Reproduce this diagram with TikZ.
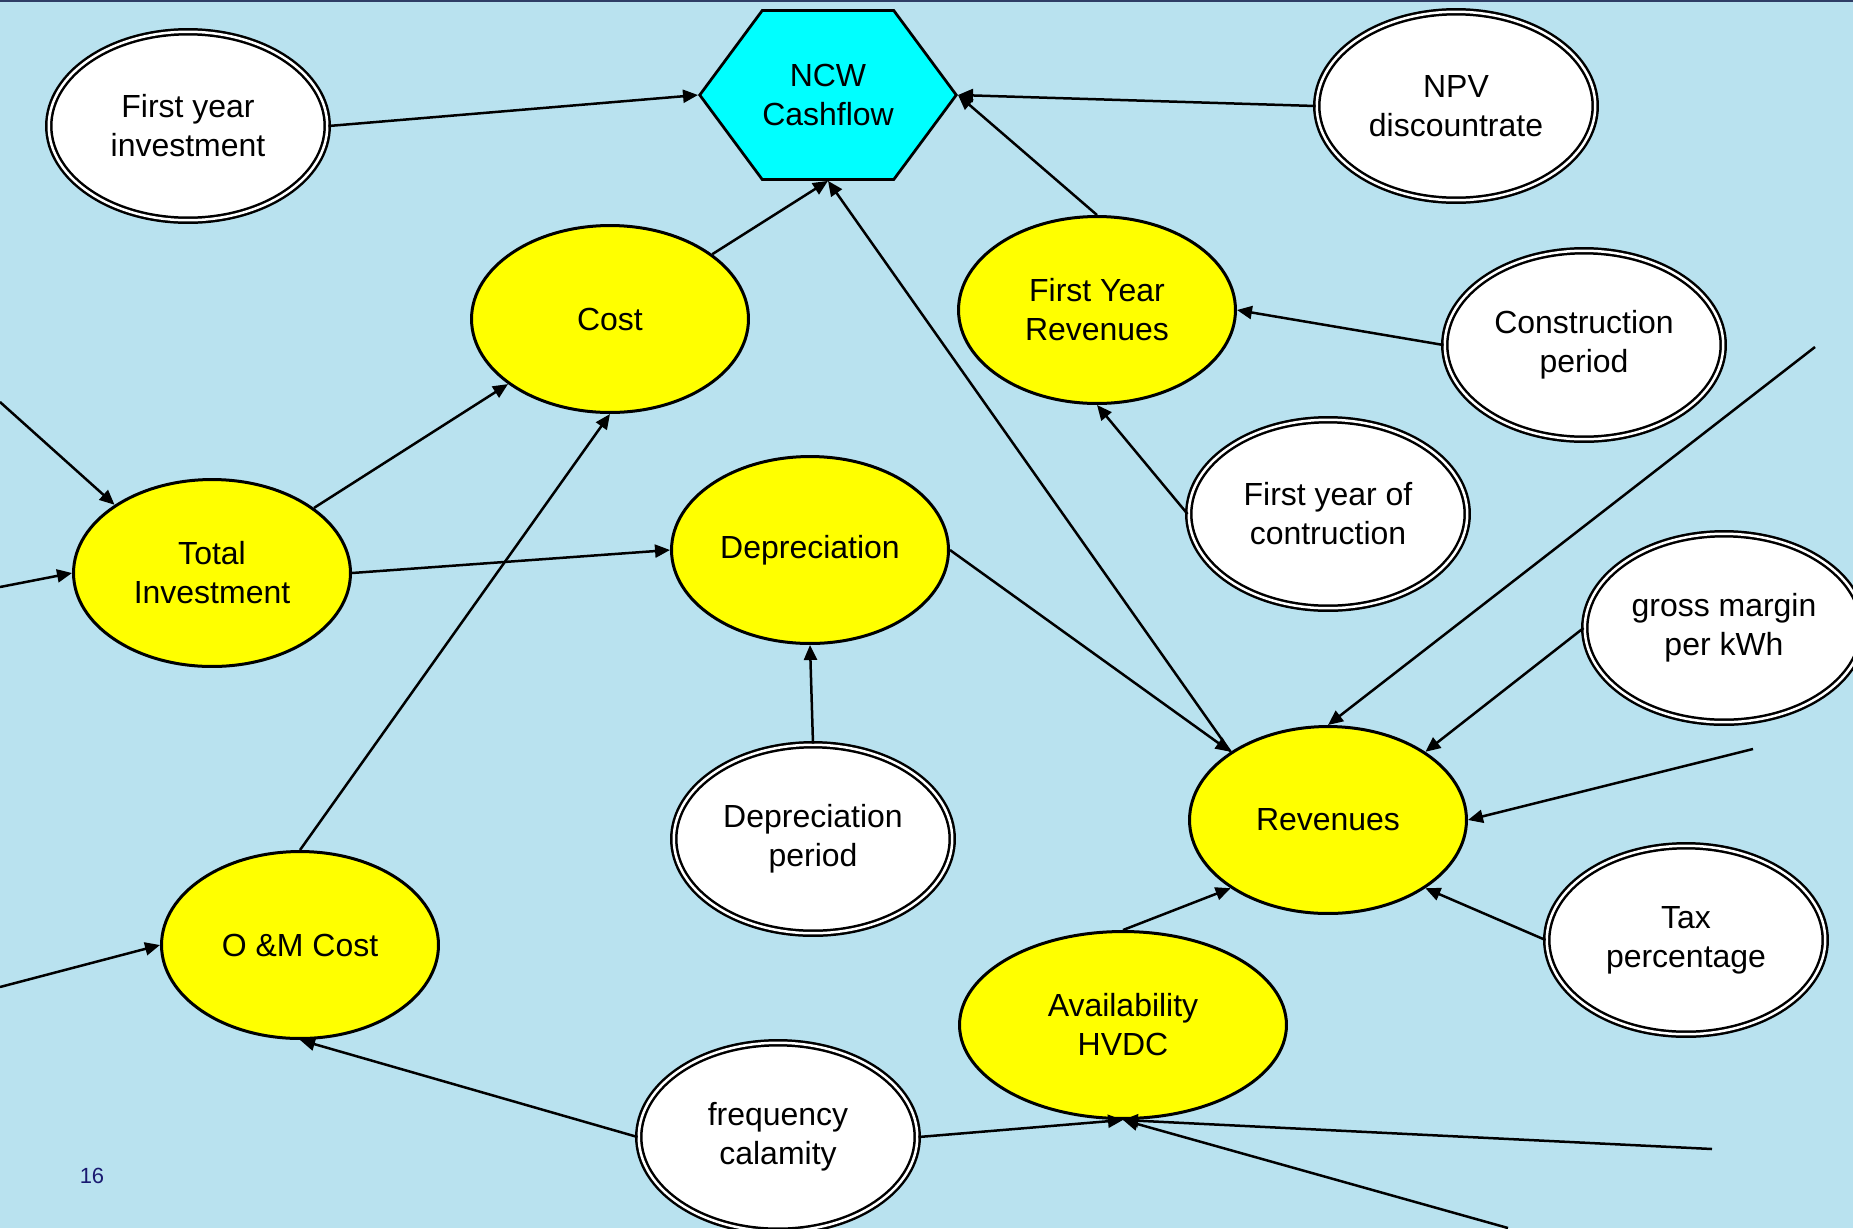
\documentclass[tikz,border=0pt]{standalone}
\usepackage{fontspec}
\setmainfont{Liberation Sans}
\usetikzlibrary{positioning, shapes.geometric, shapes.symbols, arrows.meta}

\definecolor{slidebg}{RGB}{185,226,239}
\definecolor{slidebar}{RGB}{47,62,102}
\definecolor{slidenum}{RGB}{25,25,112}
\definecolor{detfill}{RGB}{255,255,0}
\definecolor{valuefill}{RGB}{0,255,255}

\tikzset{
    detnode/.style={ellipse, draw, line width=0.06cm, fill=detfill, inner sep=0pt,
        minimum width=5.54cm, minimum height=3.74cm, align=center,
        font=\fontsize{18.2}{22.2}\selectfont},
    inputnode/.style={ellipse, draw, double, double distance=0.05cm, line width=0.05cm,
        fill=white, inner sep=0pt, minimum width=5.57cm, minimum height=3.77cm,
        align=center, font=\fontsize{18.2}{22.2}\selectfont},
    valuenode/.style={signal, signal to=east and west, signal pointer angle=107,
        draw, line width=0.055cm, fill=valuefill, inner sep=0pt,
        minimum width=5.08cm, minimum height=3.38cm, align=center,
        font=\fontsize{18.2}{22.2}\selectfont},
    infl/.style={line width=0.05cm, -{Triangle[length=0.3cm, width=0.26cm]}}
}

\begin{document}
\begin{tikzpicture}[x=0.02cm, y=-0.02cm]

        \newcommand{\slidew}{1853}
        \newcommand{\slideh}{1228}

        \fill[slidebg] (0,0) rectangle (\slidew,\slideh);
        \useasboundingbox (0,0) rectangle (\slidew,\slideh);
        \clip (0,0) rectangle (\slidew,\slideh);
        \fill[slidebar] (0,0) rectangle (\slidew,2);

        % value node and the nodes feeding it
        \node[valuenode] (ncw) at (828,95) {NCW\\Cashflow};
        \node[inputnode] (fyinv) at (188,126) {First year\\investment};
        \node[inputnode] (npv) at (1456,106) {NPV\\discountrate};
        \node[detnode] (cost) at (610,319) {Cost};
        \node[detnode] (fyrev) at (1097,310) {First Year\\Revenues};
        \node[inputnode] (cperiod) at (1584,345) {Construction\\period};
        \node[inputnode] (fyconstr) at (1328,514) {First year of\\contruction};
        \node[detnode] (totinv) at (212,573) {Total\\Investment};
        \node[detnode] (depr) at (810,550) {Depreciation};
        \node[inputnode] (margin) at (1724,628) {gross margin\\per kWh};
        \node[inputnode] (dperiod) at (813,839) {Depreciation\\period};
        \node[detnode] (rev) at (1328,820) {Revenues};
        \node[detnode] (omcost) at (300,945) {O \&M Cost};
        \node[inputnode] (tax) at (1686,940) {Tax\\percentage};
        \node[detnode, minimum width=6.54cm] (avail) at (1123,1025) {Availability\\HVDC};
        \node[inputnode] (freq) at (778,1137) {frequency\\calamity};

        \node[text=slidenum, font=\fontsize{12.5}{15}\selectfont] (pnum) at (92,1176) {16};

        % loose ends coming in from outside the slide
        \coordinate (in1) at (0,402);
        \coordinate (in2) at (0,587);
        \coordinate (in3) at (0,987);
        \coordinate (in4) at (1815,347);
        \coordinate (in5) at (1753,749);
        \coordinate (in6) at (1712,1149);
        \coordinate (in7) at (1508,1228);

        \draw[infl] (fyinv.east) -- (ncw.west);
        \draw[infl] (npv.west) -- (ncw.east);
        \draw[infl] (cost) -- (ncw.south);
        \draw[infl] (fyrev.north) -- (ncw.east);
        \draw[infl] (rev.145) -- (ncw.south);

        \draw[infl] (cperiod.west) -- (fyrev.east);
        \draw[infl] (fyconstr.west) -- (fyrev.south);

        \draw[infl] (totinv) -- (cost);
        \draw[infl] (omcost.north) -- (cost.south);
        \draw[infl] (totinv.east) -- (depr.west);
        \draw[infl] (dperiod.north) -- (depr.south);

        \draw[infl] (depr.east) -- (rev.145);
        \draw[infl] (margin.west) -- (rev.35);
        \draw[infl] (tax.west) -- (rev.-35);
        \draw[infl] (avail.north) -- (rev.215);

        \draw[infl] (freq.west) -- (omcost.south);
        \draw[infl] (freq.east) -- (avail.south);

        \draw[infl] (in1) -- (totinv.145);
        \draw[infl] (in2) -- (totinv.west);
        \draw[infl] (in3) -- (omcost.west);
        \draw[infl] (in4) -- (rev.north);
        \draw[infl] (in5) -- (rev.east);
        \draw[infl] (in6) -- (avail.south);
        \draw[infl] (in7) -- (avail.south);
    \end{tikzpicture}
\end{document}
